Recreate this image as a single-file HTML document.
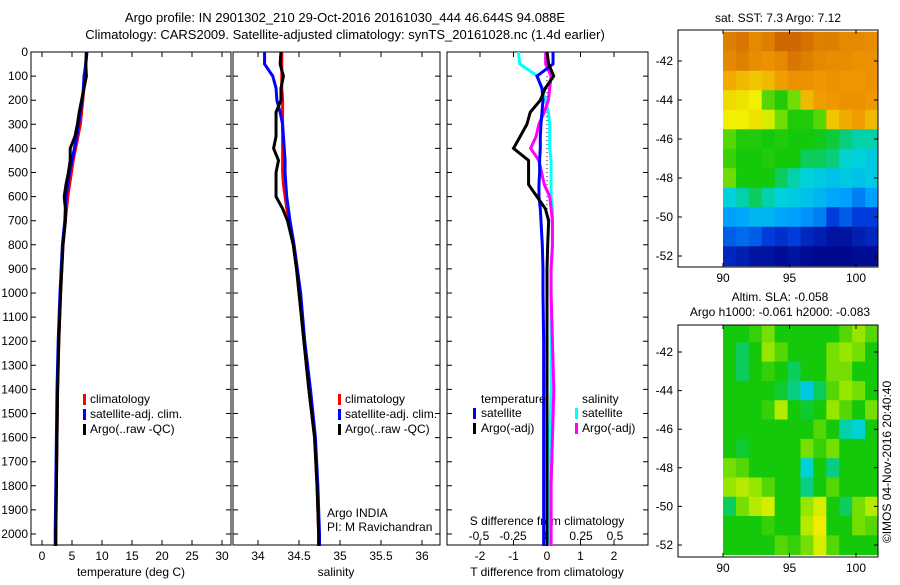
<!DOCTYPE html>
<html><head><meta charset="utf-8"><style>
body{margin:0;background:#fff;}
svg{font-family:"Liberation Sans",sans-serif;}
text{font-size:12px;fill:#000;}
</style></head><body>
<svg id="fig" width="900" height="580" viewBox="0 0 900 580" xmlns="http://www.w3.org/2000/svg">
<text x="345" y="22" text-anchor="middle" style="font-size:13px">Argo profile: IN 2901302_210 29-Oct-2016 20161030_444 46.644S 94.088E</text>
<text x="345" y="39" text-anchor="middle" style="font-size:13px">Climatology: CARS2009. Satellite-adjusted climatology: synTS_20161028.nc (1.4d earlier)</text>
<text x="778" y="22" text-anchor="middle">sat. SST: 7.3 Argo: 7.12</text>
<text x="780" y="301" text-anchor="middle">Altim. SLA: -0.058</text>
<text x="780" y="316" text-anchor="middle">Argo h1000: -0.061 h2000: -0.083</text>
<text transform="translate(891,462) rotate(-90)" text-anchor="middle">©IMOS 04-Nov-2016 20:40:40</text>
<g id="g"></g>
</svg>
<script>
// depth levels
const depths=[0,50,100,150,200,250,300,350,400,450,500,550,600,650,700,800,900,1000,1200,1400,1600,1800,2000,2050];
// temperature (deg C)
const tClim=[7.4,7.3,7.1,7.0,6.8,6.6,6.4,6.0,5.6,5.2,4.9,4.6,4.3,4.1,3.9,3.5,3.3,3.1,2.8,2.6,2.5,2.4,2.3,2.3];
const tSat=[7.5,7.3,7.0,6.9,6.7,6.4,6.1,5.8,5.4,5.0,4.6,4.3,4.0,3.9,3.8,3.4,3.2,3.0,2.7,2.5,2.4,2.3,2.2,2.2];
const tArgo=[7.4,7.3,7.4,7.0,6.6,6.2,5.9,5.5,4.7,4.7,4.4,4.0,3.7,3.9,3.9,3.5,3.3,3.1,2.8,2.6,2.5,2.4,2.3,2.3];
// salinity
const sClim=[34.29,34.29,34.29,34.29,34.3,34.3,34.3,34.3,34.3,34.3,34.3,34.31,34.33,34.35,34.38,34.43,34.47,34.5,34.56,34.62,34.69,34.72,34.74,34.74];
const sSat=[34.08,34.08,34.18,34.22,34.23,34.27,34.3,34.31,34.32,34.33,34.33,34.34,34.35,34.37,34.39,34.44,34.48,34.52,34.57,34.64,34.7,34.73,34.75,34.75];
const sArgo=[34.28,34.27,34.31,34.28,34.28,34.22,34.22,34.22,34.19,34.25,34.22,34.22,34.22,34.3,34.36,34.43,34.47,34.5,34.56,34.62,34.69,34.72,34.74,34.74];
// differences from climatology
const dTSat=[0.18,0.18,-0.3,-0.15,-0.12,-0.15,-0.18,-0.2,-0.2,-0.22,-0.22,-0.24,-0.24,-0.2,-0.18,-0.14,-0.12,-0.12,-0.1,-0.1,-0.1,-0.1,-0.1,-0.1];
const dTArgo=[0,0.05,0.2,-0.05,-0.2,-0.5,-0.6,-0.8,-1.0,-0.55,-0.55,-0.55,-0.3,-0.05,0.05,0.02,0,0,0,0,0,0,0,0];
const dSSat=[-0.21,-0.2,-0.07,-0.04,-0.01,0.01,0.02,0.02,0.02,0.03,0.03,0.03,0.03,0.04,0.04,0.04,0.03,0.03,0.03,0.03,0.02,0.02,0.02,0.02];
const dSArgo=[-0.01,-0.01,0.03,0.02,0.01,-0.02,-0.06,-0.08,-0.12,-0.06,-0.04,-0.02,0.02,0.03,0.04,0.04,0.03,0.03,0.04,0.05,0.04,0.03,0.03,0.03];
// axis ticks
const depthTicks=[0,100,200,300,400,500,600,700,800,900,1000,1100,1200,1300,1400,1500,1600,1700,1800,1900,2000];
const tTicks=[0,5,10,15,20,25,30];
const sTicks=[34,34.5,35,35.5,36];
const dTTicks=[-2,-1,0,1,2];
const dSTicks=[-0.5,-0.25,0,0.25,0.5];
const dSTickLabels=["-0.5","-0.25","0","0.25","0.5"];
// SST map grid (normalised colour level 0..1), rows north->south
const sstGrid=[
[.9,.92,.88,.9,.95,.95,.93,.9,.9,.88,.88,.87],
[.88,.9,.87,.86,.88,.92,.9,.88,.87,.87,.86,.86],
[.82,.8,.78,.8,.84,.86,.86,.85,.86,.85,.85,.86],
[.75,.74,.72,.6,.56,.62,.8,.84,.85,.86,.86,.85],
[.72,.72,.74,.7,.62,.56,.56,.6,.78,.82,.84,.8],
[.6,.56,.56,.55,.56,.55,.55,.54,.52,.48,.45,.45],
[.58,.55,.55,.56,.55,.55,.5,.5,.48,.43,.42,.4],
[.62,.55,.55,.55,.5,.45,.42,.4,.38,.4,.38,.4],
[.42,.45,.5,.45,.42,.4,.38,.35,.32,.3,.25,.3],
[.3,.32,.35,.35,.32,.3,.28,.25,.15,.2,.15,.15],
[.2,.22,.2,.15,.12,.15,.1,.08,.05,.05,.08,.1],
[.1,.08,.05,.05,.03,.05,.03,.02,.02,.02,.03,.03]];
// SLA map grid (relative anomaly)
const slaGrid=[
[0,0,0.1,0.3,0,0,0,0,0,0.2,0.4,0.2],
[0,-0.2,0,0.4,0.2,0,0,0,0.3,0.4,0.3,0],
[0,-0.2,0,0.1,0,-0.2,0,0,0.3,0.3,0,0],
[0,0,0,0,-0.1,-0.3,-0.6,-0.2,0.2,0.4,0.3,0],
[0,0,0,0.1,0.5,0,-0.1,0,0.4,0.2,0,0.3],
[0,0,0,0,0,0,0,0.2,0,-0.4,-0.5,0],
[0,-0.1,0,0,0,0,0.3,0.1,0.3,0,0,0],
[0.3,0.2,0,0,0,0,-0.5,0,-0.3,0,0,0],
[0.4,0.5,0.4,0.2,0,0,-0.3,0,0.2,0,0,0],
[-0.2,0.3,0.5,0.6,0,0,0.4,0.6,0,-0.2,0.3,0.5],
[0,0,0,0.1,0,0,0.5,0.7,0,0,0.3,0.2],
[0,0,0,0,0.2,0.1,0.3,0.6,0.2,0,0,0]];
const mapLonTicks=[90,95,100];
const mapLatTicks=[-42,-44,-46,-48,-50,-52];

const NS="http://www.w3.org/2000/svg";
const G=document.getElementById('g');
function el(t,a,p){const e=document.createElementNS(NS,t);for(const k in a)e.setAttribute(k,a[k]);(p||G).appendChild(e);return e;}
const yD=d=>52+d*0.241;
function lin(d0,d1,r0,r1){return v=>r0+(v-d0)*(r1-r0)/(d1-d0);}
const xT=lin(0,30,42,222), xS=lin(34,36,258,422), xDT=lin(0,1,547,580.5), xDS=lin(0,0.25,547,581);

function panel(name,x0,x1){
  const r=el('rect',{x:x0,y:52,width:x1-x0,height:493,fill:'none',stroke:'#000','stroke-width':1});
  
  
  depthTicks.forEach(d=>{const y=yD(d);
    const t=el('path',{d:`M${x0} ${y}h5M${x1} ${y}h-5`,stroke:'#000'});
    
    });
}
function xticks(name,ticks,labels,sc,ty){
  ticks.forEach((v,i)=>{const x=sc(v);
    const t=el('path',{d:`M${x} 545v-5M${x} 52v5`,stroke:'#000'});
    
    
    const l=el('text',{x:x,y:ty,'text-anchor':'middle'});l.textContent=labels[i];
    
    });
}
function line(name,xs,sc,col){
  const p=el('polyline',{points:xs.map((v,i)=>sc(v)+','+yD(depths[i])).join(' '),fill:'none',stroke:col,'stroke-width':3});
  
  
}
function txt(name,s,x,y,anchor){const t=el('text',{x:x,y:y,'text-anchor':anchor||'start'});t.textContent=s;
  
  return t;}
function swatch(name,x,y,col){const r=el('rect',{x:x,y:y-9,width:3,height:11,fill:col});
  
  }

panel('temperature-panel',31,231);
panel('salinity-panel',233,440);
panel('difference-panel',447,648);
depthTicks.forEach(d=>txt('depth-tick-label',String(d),28,yD(d)+4,'end'));
xticks('temperature-axis',tTicks,tTicks.map(String),xT,560);
xticks('salinity-axis',sTicks,sTicks.map(String),xS,560);
xticks('t-diff-axis',dTTicks,dTTicks.map(String),xDT,560);
dSTicks.forEach((v,i)=>txt('s-diff-tick-label',dSTickLabels[i],xDS(v),540,'middle'));
txt('temperature-axis-title','temperature (deg C)',131,576,'middle');
txt('salinity-axis-title','salinity',336,576,'middle');
txt('t-diff-axis-title','T difference from climatology',547,576,'middle');
txt('s-diff-axis-title','S difference from climatology',547,525,'middle');

line('temp-climatology',tClim,xT,'#f00');
line('temp-satellite-adj',tSat,xT,'#00f');
line('temp-argo',tArgo,xT,'#000');
line('sal-climatology',sClim,xS,'#f00');
line('sal-satellite-adj',sSat,xS,'#00f');
line('sal-argo',sArgo,xS,'#000');
const zl=el('path',{d:`M547 ${yD(100)}V${yD(700)}`,stroke:'#000','stroke-dasharray':'1,3'});


line('sdiff-satellite',dSSat,xDS,'#0ff');
line('sdiff-argo',dSArgo,xDS,'#f0f');
line('tdiff-satellite',dTSat,xDT,'#00f');
line('tdiff-argo',dTArgo,xDT,'#000');

[['climatology','#f00'],['satellite-adj. clim.','#00f'],['Argo(..raw -QC)','#000']].forEach((e,i)=>{
  swatch('temp-legend-swatch',83,403+i*15,e[1]);txt('temp-legend-entry',e[0],90,403+i*15);
  swatch('sal-legend-swatch',338,403+i*15,e[1]);txt('sal-legend-entry',e[0],345,403+i*15);});
txt('argo-india','Argo INDIA',327,517);
txt('pi-name','PI: M Ravichandran',327,531);
txt('diff-legend-temp-header','temperature',481,403);
txt('diff-legend-sal-header','salinity',582,403);
swatch('diff-legend-swatch',473,417,'#00f');txt('diff-legend-entry','satellite',481,417);
swatch('diff-legend-swatch',473,432,'#000');txt('diff-legend-entry','Argo(-adj)',481,432);
swatch('diff-legend-swatch',575,417,'#0ff');txt('diff-legend-entry','satellite',582,417);
swatch('diff-legend-swatch',575,432,'#f0f');txt('diff-legend-entry','Argo(-adj)',582,432);

const cmapStops=[[0,[0,0,130]],[0.15,[0,60,220]],[0.3,[0,160,255]],[0.42,[0,210,220]],[0.55,[20,200,10]],[0.65,[150,230,0]],[0.72,[240,240,0]],[0.85,[240,150,0]],[1,[190,80,0]]];
function cmap(t){t=Math.max(0,Math.min(1,t));
  for(let k=1;k<cmapStops.length;k++){const a=cmapStops[k-1],b=cmapStops[k];
    if(t<=b[0]){const f=(t-a[0])/(b[0]-a[0]);return 'rgb('+a[1].map((c,i)=>Math.round(c+(b[1][i]-c)*f)).join(',')+')';}}
  return 'rgb(190,80,0)';}
function map(name,grid,y0,y1,lat42,lat52,cf){
  const yL=lin(-42,-52,lat42,lat52), xL=lin(90,100,723,856);
  const nc=grid[0].length, cw=(878-723)/nc;
  grid.forEach((row,i)=>row.forEach((v,j)=>{
    const top=Math.max(y0,yL(-40.5-i)), bot=Math.min(y1,yL(-41.5-i));
    const c=el('rect',{x:723+j*cw,y:top,width:cw+0.5,height:bot-top+0.5,fill:cf(v)});
    
    }));
  const f=el('rect',{x:678,y:y0,width:200,height:y1-y0,fill:'none',stroke:'#000'});
  
  
  mapLatTicks.forEach(l=>{const y=yL(l);
    const t=el('path',{d:`M678 ${y}h4M878 ${y}h-4`,stroke:'#000'});
    
    
    txt(name+'-lat-label',String(l),673,y+4,'end');});
  mapLonTicks.forEach(l=>{const x=xL(l);
    const t=el('path',{d:`M${x} ${y1}v-4M${x} ${y0}v4`,stroke:'#000'});
    
    
    txt(name+'-lon-label',String(l),x,y1+15,'middle');});
}
map('sst-map',sstGrid,30,267,61,256,v=>cmap(v));
map('sla-map',slaGrid,325,557,352,545,v=>cmap(0.55+v*0.25));
</script>
</body></html>
